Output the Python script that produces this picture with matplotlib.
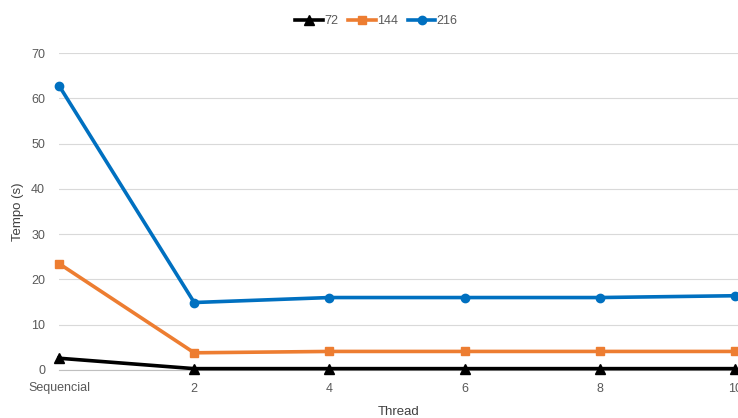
import matplotlib
matplotlib.use("Agg")
import matplotlib.pyplot as plt

# chart data
categories = ["Sequencial", "2", "4", "6", "8", "10"]
t72 = [2.6, 0.3, 0.3, 0.3, 0.3, 0.3]
t144 = [23.5, 3.8, 4.1, 4.1, 4.1, 4.1]
t216 = [62.8, 14.9, 16.0, 16.0, 16.0, 16.4]

plt.rcParams['font.family'] = ['Liberation Sans', 'DejaVu Sans']

fig = plt.figure(figsize=(7.38, 4.18), dpi=100)
ax = fig.add_axes([59 / 738, 48 / 418, 679 / 738, 317 / 418])

x = list(range(len(categories)))
ax.plot(x, t72, color="black", lw=2.6, marker="^", ms=7, label="72", clip_on=False, zorder=3)
ax.plot(x, t144, color="#ED7D31", lw=2.6, marker="s", ms=6, label="144", clip_on=False, zorder=3)
ax.plot(x, t216, color="#0070C0", lw=2.6, marker="o", ms=6, label="216", clip_on=False, zorder=3)

ax.set_xlim(0, 5.022)
ax.set_ylim(0, 70)
ax.set_yticks(range(0, 71, 10))
ax.set_xticks(x)
ax.set_xticklabels(categories)
ax.grid(axis="y", color="#D9D9D9", lw=0.8)
ax.set_axisbelow(True)
for s in ["top", "right", "left"]:
    ax.spines[s].set_visible(False)
ax.spines["bottom"].set_color("#BFBFBF")
ax.tick_params(axis="y", length=0, pad=10, labelsize=9, labelcolor="#595959")
ax.tick_params(axis="x", length=0, pad=9, labelsize=9, labelcolor="#595959")

ax.set_ylabel("Tempo (s)", fontsize=9.5, color="#404040", labelpad=5)
ax.set_xlabel("Thread", fontsize=9.5, color="#404040", labelpad=8)

fig.legend(loc="upper center", bbox_to_anchor=(0.51, 0.99), ncol=3, frameon=False,
           fontsize=9, labelcolor="#595959", handlelength=2.2, handletextpad=0.1,
           columnspacing=0.8)

fig.savefig("out.png", dpi=100)
